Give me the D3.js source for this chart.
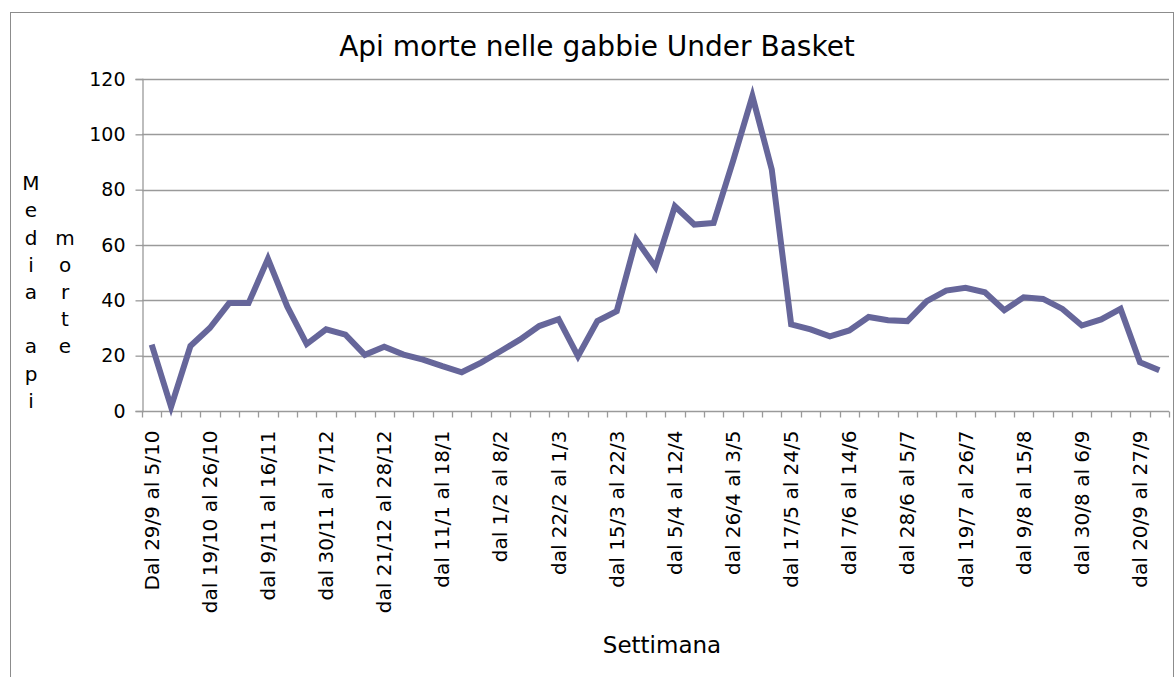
<!DOCTYPE html>
<html>
<head>
<meta charset="utf-8">
<script src="https://cdn.jsdelivr.net/npm/d3@7"></script>
<style>
  html, body { margin: 0; padding: 0; background: #fff; }
  svg { display: block; }
  text { font-family: "DejaVu Sans", Verdana, sans-serif; fill: #000; }
</style>
</head>
<body>
<svg id="chart" width="1176" height="677"></svg>
<script>
// Weekly periods (Sept -> Sept)
const weeks = [
  "Dal 29/9 al 5/10", "dal 5/10 al 12/10", "dal 12/10 al 19/10",
  "dal 19/10 al 26/10", "dal 26/10 al 2/11", "dal 2/11 al 9/11",
  "dal 9/11 al 16/11", "dal 16/11 al 23/11", "dal 23/11 al 30/11",
  "dal 30/11 al 7/12", "dal 7/12 al 14/12", "dal 14/12 al 21/12",
  "dal 21/12 al 28/12", "dal 28/12 al 4/1", "dal 4/1 al 11/1",
  "dal 11/1 al 18/1", "dal 18/1 al 25/1", "dal 25/1 al 1/2",
  "dal 1/2 al 8/2", "dal 8/2 al 15/2", "dal 15/2 al 22/2",
  "dal 22/2 al 1/3", "dal 1/3 al 8/3", "dal 8/3 al 15/3",
  "dal 15/3 al 22/3", "dal 22/3 al 29/3", "dal 29/3 al 5/4",
  "dal 5/4 al 12/4", "dal 12/4 al 19/4", "dal 19/4 al 26/4",
  "dal 26/4 al 3/5", "dal 3/5 al 10/5", "dal 10/5 al 17/5",
  "dal 17/5 al 24/5", "dal 24/5 al 31/5", "dal 31/5 al 7/6",
  "dal 7/6 al 14/6", "dal 14/6 al 21/6", "dal 21/6 al 28/6",
  "dal 28/6 al 5/7", "dal 5/7 al 12/7", "dal 12/7 al 19/7",
  "dal 19/7 al 26/7", "dal 26/7 al 2/8", "dal 2/8 al 9/8",
  "dal 9/8 al 15/8", "dal 15/8 al 23/8", "dal 23/8 al 30/8",
  "dal 30/8 al 6/9", "dal 6/9 al 13/9", "dal 13/9 al 20/9",
  "dal 20/9 al 27/9", "dal 27/9 al 4/10"
];

// Average dead bees per week
const deadBees = [
  24, 1.5, 23.5, 30, 39, 39, 55, 37.7, 24.2, 29.5,
  27.6, 20.3, 23.2, 20.4, 18.6, 16.2, 14, 17.5, 21.6, 25.8,
  30.7, 33.2, 19.8, 32.5, 36.1, 62, 52, 74, 67.4, 68,
  90.3, 113.8, 87.3, 31.3, 29.5, 27, 29.1, 34, 32.8, 32.5,
  39.7, 43.5, 44.5, 42.9, 36.4, 41.1, 40.5, 36.9, 30.9, 33.1,
  36.9, 17.6, 14.7
];

const yTicks = [0, 20, 40, 60, 80, 100, 120];
const yTitleCols = ["Media api", "morte"];
const chartTitle = "Api morte nelle gabbie Under Basket";
const xTitle = "Settimana";

const svg = d3.select("#chart");
const plot = { left: 142, right: 1169, top: 79, bottom: 411 };
const gridColor = "#9a9a9a";

// Outer frame
svg.append("rect")
  .attr("x", 10.5).attr("y", 12.5)
  .attr("width", 1163).attr("height", 700)
  .attr("fill", "none").attr("stroke", "#8c8c8c").attr("stroke-width", 1);

const x = d3.scaleBand()
  .domain(weeks)
  .range([plot.left, plot.right])
  .paddingInner(0).paddingOuter(0);

const y = d3.scaleLinear()
  .domain([0, 120])
  .range([plot.bottom, plot.top]);

// Horizontal gridlines
svg.append("g")
  .selectAll("line")
  .data(yTicks.filter(d => d > 0))
  .join("line")
  .attr("x1", plot.left).attr("x2", plot.right)
  .attr("y1", d => Math.round(y(d)) + 0.5)
  .attr("y2", d => Math.round(y(d)) + 0.5)
  .attr("stroke", gridColor).attr("stroke-width", 1.3);

// Y axis
const yAxis = d3.axisLeft(y).tickValues(yTicks).tickSize(7).tickPadding(10);
const gy = svg.append("g")
  .attr("transform", `translate(${plot.left + 0.5},0)`)
  .call(yAxis);
gy.select(".domain").attr("stroke", gridColor).attr("stroke-width", 1.3);
gy.selectAll(".tick line").attr("stroke", gridColor).attr("stroke-width", 1.3);
gy.selectAll(".tick text")
  .attr("font-size", 19)
  .attr("font-family", "'DejaVu Sans', Verdana, sans-serif")
  .attr("fill", "#000");

// X axis: ticks on week boundaries
const gx = svg.append("g").attr("transform", `translate(0,${Math.round(plot.bottom) + 0.5})`);
gx.append("line")
  .attr("x1", plot.left).attr("x2", plot.right)
  .attr("stroke", gridColor).attr("stroke-width", 1.3);
const bounds = weeks.map(w => x(w)).concat([plot.right]);
gx.selectAll("line.tk")
  .data(bounds)
  .join("line")
  .attr("class", "tk")
  .attr("x1", d => Math.round(d) + 0.5).attr("x2", d => Math.round(d) + 0.5)
  .attr("y1", 0).attr("y2", 6)
  .attr("stroke", gridColor).attr("stroke-width", 1.3);

// Week labels, one every three weeks, rotated
gx.selectAll("text.wk")
  .data(weeks.filter((d, i) => i % 3 === 0))
  .join("text")
  .attr("class", "wk")
  .attr("transform", d => `translate(${x(d) + x.bandwidth() / 2 + 7},19) rotate(-90)`)
  .attr("text-anchor", "end")
  .attr("font-size", 20)
  .text(d => d);

// Data line
const line = d3.line()
  .x((d, i) => x(weeks[i]) + x.bandwidth() / 2)
  .y(d => y(d));
svg.append("path")
  .datum(deadBees)
  .attr("d", line)
  .attr("fill", "none")
  .attr("stroke", "#66669a")
  .attr("stroke-width", 6)
  .attr("stroke-linejoin", "miter")
  .attr("stroke-miterlimit", 10);

// Title
svg.append("text")
  .attr("x", 597).attr("y", 56)
  .attr("text-anchor", "middle")
  .attr("font-size", 28)
  .text(chartTitle);

// Y axis title, letters stacked in two columns
const colX = [31, 65];
const rowH = 27.2;
yTitleCols.forEach((word, c) => {
  const chars = word.split("");
  const startY = 292 - (chars.length - 1) * rowH / 2;
  svg.append("g").selectAll("text")
    .data(chars)
    .join("text")
    .attr("x", colX[c])
    .attr("y", (d, i) => startY + i * rowH + 7)
    .attr("text-anchor", "middle")
    .attr("font-size", 20)
    .text(d => d);
});

// X axis title
svg.append("text")
  .attr("x", 662).attr("y", 653)
  .attr("text-anchor", "middle")
  .attr("font-size", 23)
  .text(xTitle);
</script>
</body>
</html>
